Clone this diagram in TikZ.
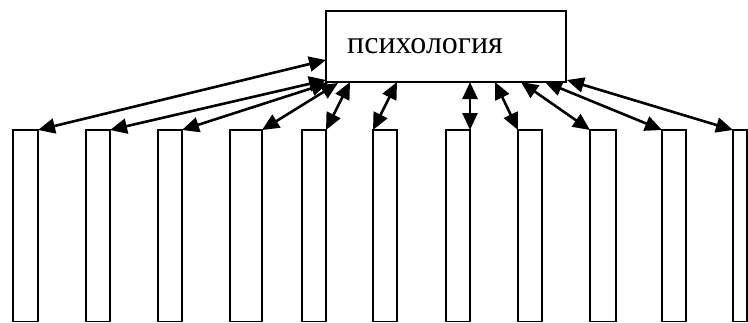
\documentclass[tikz,border=0pt]{standalone}
\usepackage{fontspec}
\setmainfont{Liberation Serif}
\usetikzlibrary{arrows.meta}
\begin{document}
\begin{tikzpicture}[x=1pt,y=-1pt,
  col/.style={draw, line width=1.9pt, inner sep=0pt, outer sep=0pt, minimum width=#1, minimum height=191.5pt, anchor=north west},
  link/.style={line width=2.6pt, {Triangle[length=17pt,width=15pt]}-{Triangle[length=17pt,width=15pt]}}]
\useasboundingbox (0,0) rectangle (748,322);
\node[draw, line width=1.9pt, inner sep=0pt, outer sep=0pt, minimum width=240pt, minimum height=71pt, anchor=north west] (P) at (326,11) {};
\node[anchor=base west, inner sep=0pt, font=\fontsize{32}{38}\selectfont] (T) at (347,53) {психология};
\node[col=25pt] (r1) at (13,130) {};
\node[col=24pt] (r2) at (86,130) {};
\node[col=24pt] (r3) at (158,130) {};
\node[col=32pt] (r4) at (230,130) {};
\node[col=24pt] (r5) at (302,130) {};
\node[col=24pt] (r6) at (373,130) {};
\node[col=24pt] (r7) at (446,130) {};
\node[col=24pt] (r8) at (518,130) {};
\node[col=26pt] (r9) at (590,130) {};
\node[col=24pt] (r10) at (662,130) {};
\node[col=14pt] (r11) at (733,130) {};
\coordinate (b1) at (326,60);
\coordinate (b2) at (326,80);
\coordinate (b3) at (328,83);
\coordinate (b4) at (338,83);
\coordinate (b5) at (350,82);
\coordinate (b6) at (397,82);
\coordinate (b7) at (470,82);
\coordinate (b8) at (495,82);
\coordinate (b9) at (521,82);
\coordinate (b10) at (545,82);
\coordinate (b11) at (567,80);
\draw[link] (b1) -- (r1.north east);
\draw[link] (b2) -- (r2.north east);
\draw[link] (b3) -- (r3.north east);
\draw[link] (b4) -- (r4.north east);
\draw[link] (b5) -- (r5.north east);
\draw[link] (b6) -- (r6.north west);
\draw[link] (b7) -- (r7.north east);
\draw[link] (b8) -- (r8.north west);
\draw[link] (b9) -- (r9.north west);
\draw[link] (b10) -- (r10.north west);
\draw[link] (b11) -- (r11.north west);
\end{tikzpicture}
\end{document}
